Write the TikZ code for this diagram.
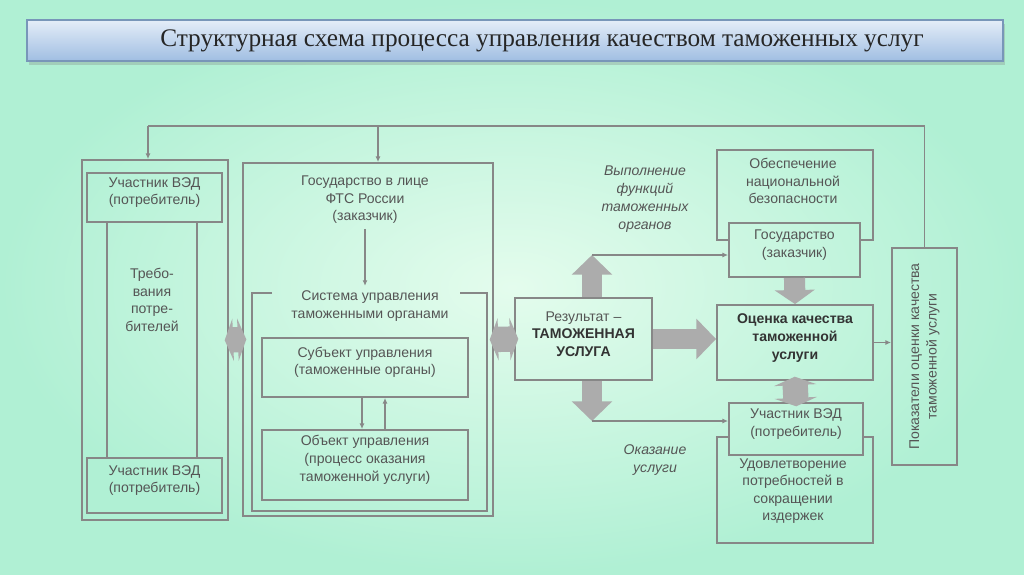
\documentclass[tikz,border=0pt]{standalone}
\usepackage{fontspec}
\setmainfont{Liberation Sans}
\newfontfamily\titlefont{Liberation Serif}
\usetikzlibrary{arrows.meta, positioning, fit, calc, shadows}

\definecolor{mintedge}{RGB}{176,240,212}
\definecolor{mintmid}{RGB}{228,252,237}
\definecolor{barTop}{RGB}{228,237,248}
\definecolor{barBot}{RGB}{160,190,226}
\definecolor{barEdge}{RGB}{120,150,185}
\definecolor{lineGray}{RGB}{135,135,135}
\definecolor{txtGray}{RGB}{85,85,85}
\definecolor{fatGray}{RGB}{172,172,172}

\begin{document}
\begin{tikzpicture}[x=0.025cm, y=-0.025cm,
    box/.style={draw=lineGray, line width=1.3pt, inner sep=0pt, align=center, font=\fontsize{10}{12.5}\selectfont, text=txtGray},
    txt/.style={align=center, font=\fontsize{10}{12.5}\selectfont, text=txtGray},
    note/.style={align=center, font=\fontsize{10}{12.8}\selectfont\itshape, text=txtGray},
    frame/.style={draw=lineGray, line width=1.3pt},
    link/.style={draw=lineGray, line width=1.2pt, -{Latex[length=4pt,width=3.5pt]}},
    fat/.style={draw=fatGray, line width=14pt, -{Triangle[width=28pt,length=14pt]}},
    fatboth/.style={draw=fatGray, line width=18pt, {Triangle[width=30pt,length=6pt]}-{Triangle[width=30pt,length=6pt]}, shorten <=-3pt, shorten >=-3pt}
]
\useasboundingbox (0,0) rectangle (1024,574);
\shade[inner color=mintmid, outer color=mintedge] (0,0) rectangle (1024,574);

% Title
\node[fit={(27,20) (1003,61)}, inner sep=0pt, draw=barEdge, line width=0.8pt, top color=barTop, bottom color=barBot, drop shadow={opacity=0.3, shadow xshift=0.6mm, shadow yshift=-1mm}] (bar) {};
\node[font=\titlefont\fontsize{18}{20}\selectfont, text=black!85] (title) at (542,41) {Структурная схема процесса управления качеством таможенных услуг};

% Left column
\node[box, fit={(82,160) (228,520)}] (leftcol) {};
\node[box, fit={(87,173) (222,222)}] (vedtop) {Участник ВЭД\\(потребитель)};
\node[box, fit={(107,222) (197,458)}] (trebbox) {};
\node[txt] (treb) at (152,300) {Требо-\\вания\\потре-\\бителей};
\node[box, fit={(87,458) (222,513)}] (vedbot) {Участник ВЭД\\(потребитель)};

% Middle column
\node[box, fit={(243,163) (493,516)}] (midcol) {};
\node[txt] (gosfts) at (365,200) {Государство в лице\\ФТС России\\(заказчик)};
\node[txt] (sys) at (370,306) {Система управления\\таможенными органами};
\draw[frame] (272,293) -| (252,511) -| (487,293) -- (460,293);
\node[box, fit={(262,338) (468,397)}] (subj) {Субъект управления\\(таможенные органы)};
\node[box, fit={(262,430) (468,500)}] (obj) {Объект управления\\(процесс оказания\\таможенной услуги)};

% Result
\node[box, fit={(515,298) (652,380)}] (result) {Результат –\\\textbf{\color{black!80}ТАМОЖЕННАЯ}\\\textbf{\color{black!80}УСЛУГА}};
\node[note] (vypoln) at (645,199) {Выполнение\\функций\\таможенных\\органов};
\node[note] (okaz) at (655,460) {Оказание\\услуги};

% Right column
\node[txt] (nacbez) at (793,181) {Обеспечение\\национальной\\безопасности};
\draw[frame] (729,240) -| (717,150) -| (873,240) -- (860,240);
\node[box, fit={(729,223) (860,277)}] (gos) {Государство\\(заказчик)};
\node[box, fit={(717,305) (873,380)}, font=\fontsize{10}{12.8}\selectfont\bfseries, text=black!80] (ocenka) {Оценка качества\\таможенной\\услуги};
\node[box, fit={(729,403) (863,455)}] (vedright) {Участник ВЭД\\(потребитель)};
\node[txt] (udovl) at (793,491) {Удовлетворение\\потребностей в\\сокращении\\издержек};
\draw[frame] (729,437) -| (717,543) -| (873,437) -- (863,437);
\node[box, fit={(892,248) (957,465)}] (pokaz) {};
\node[txt, rotate=90] (pokaztxt) at (pokaz.center) {Показатели оценки качества\\таможенной услуги};

% Connections
\draw[link] (gosfts.south) -- (gosfts.south |- sys.north);
\draw[link] ([xshift=-0.075cm]subj.south) -- ([xshift=-0.075cm]obj.north);
\draw[link] ([xshift=0.5cm]obj.north) -- ([xshift=0.5cm]subj.south);

\draw[fatboth] (leftcol.east) -- (midcol.west);
\draw[fatboth] (midcol.east) -- (result.west);
\draw[fat] (result.east) -- (result.east -| ocenka.west);
\coordinate (uptip) at (592,255);
\coordinate (dntip) at (592,421);
\draw[fat] (uptip |- result.north) -- (uptip);
\draw[fat] (dntip |- result.south) -- (dntip);
\draw[link] (uptip) -- (uptip -| gos.west);
\draw[link] (dntip) -- (dntip -| vedright.west);
\draw[fat, line width=15pt, -{Triangle[width=28pt,length=10pt]}] (gos.south) -- (ocenka.north);
\draw[fatboth] (ocenka.south) -- (vedright.north);
\draw[link] (ocenka.east) -- (pokaz.west |- ocenka.east);

% Feedback
\coordinate (fbL) at (148,126);
\coordinate (fbM) at (378,126);
\draw[frame] (pokaz.north) |- (fbL);
\draw[link] (fbL) -- (fbL |- leftcol.north);
\draw[link] (fbM) -- (fbM |- midcol.north);

\end{tikzpicture}
\end{document}
